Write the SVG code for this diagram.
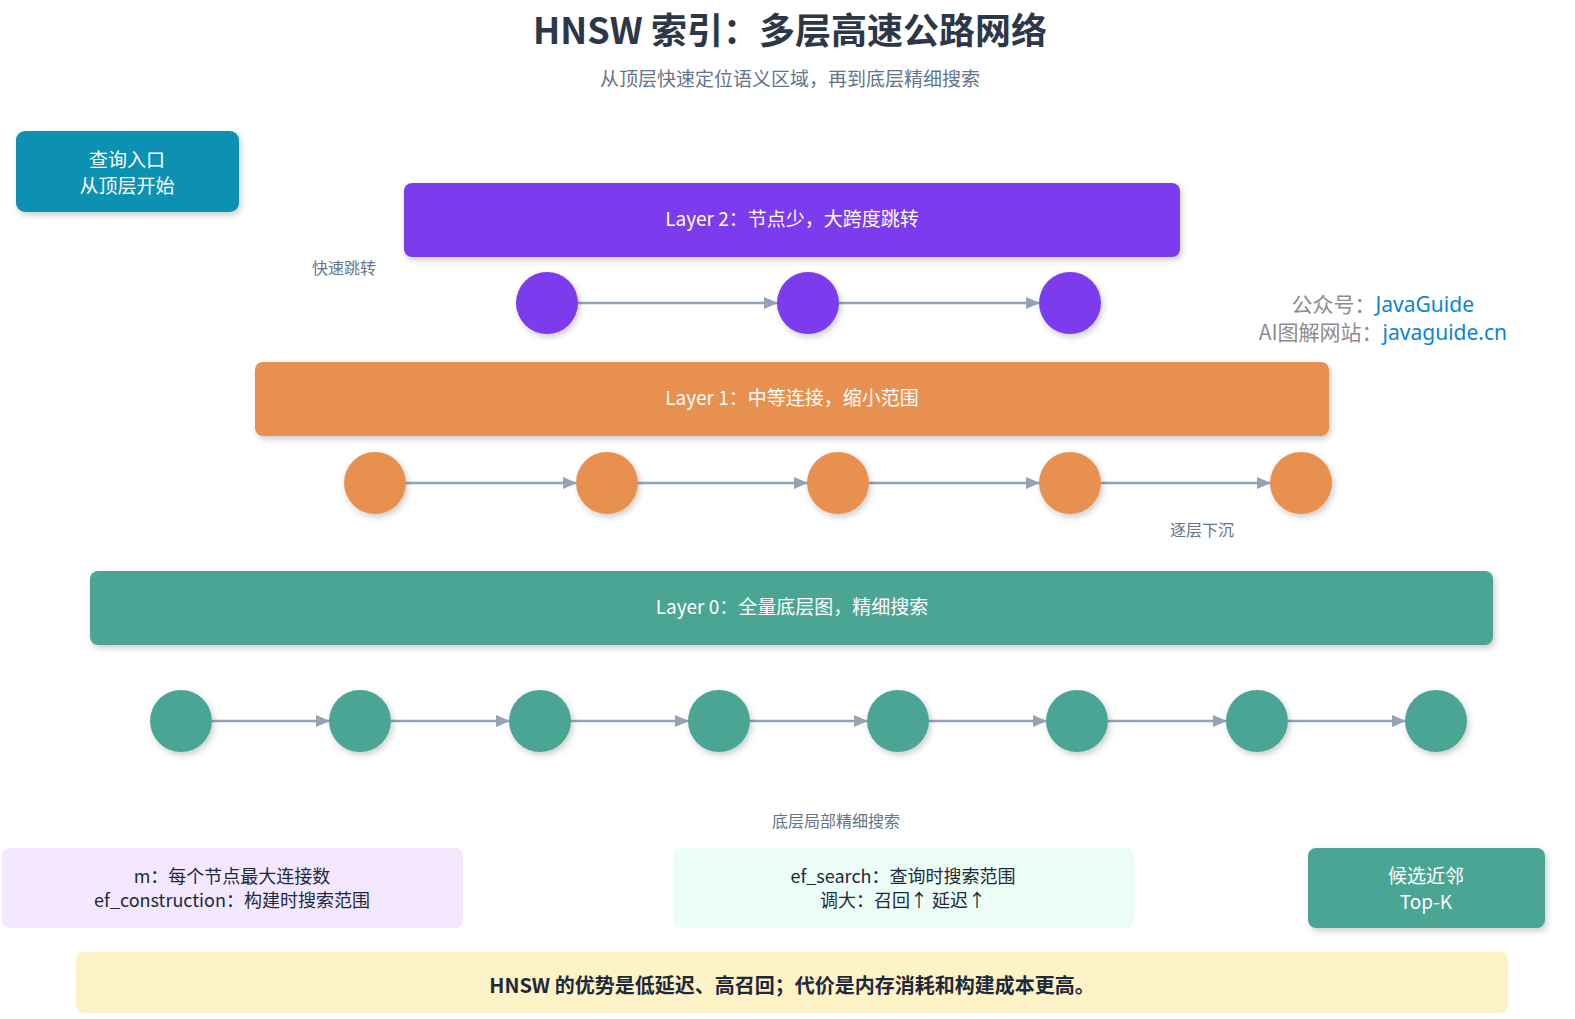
<svg xmlns="http://www.w3.org/2000/svg" width="1575" height="1019" viewBox="0 0 1575 1019">
<defs>
<filter id="sh" x="-10%" y="-20%" width="120%" height="150%"><feDropShadow dx="2" dy="3" stdDeviation="3" flood-color="#000" flood-opacity="0.2"/></filter>
<marker id="ah" markerWidth="14" markerHeight="12" refX="13" refY="6" orient="auto" markerUnits="userSpaceOnUse"><path d="M0,0 L14,6 L0,12 Z" fill="#94a3b8"/></marker>
<style>
text{font-family:"Noto Sans CJK SC","Noto Sans",sans-serif;}
.t{fill:#fff;font-size:19px;text-anchor:middle}
.g{fill:#64748b;font-size:16px;text-anchor:middle}
.d{fill:#1e293b;font-size:18px;text-anchor:middle}
.c{stroke:#94a3b8;stroke-width:2.5;fill:none;marker-end:url(#ah)}
</style>
</defs>
<rect width="1575" height="1019" fill="#fff"/>
<text x="790" y="44" text-anchor="middle" font-size="36" font-weight="bold" fill="#2d3748">HNSW 索引：多层高速公路网络</text>
<text x="790" y="86" class="g" font-size="19" style="font-size:19px">从顶层快速定位语义区域，再到底层精细搜索</text>

<g id="query"><rect x="16" y="131" width="223" height="81" rx="9" fill="#0891b2" filter="url(#sh)"/><text class="t" x="127" y="167">查询入口</text><text class="t" x="127" y="193">从顶层开始</text></g>

<g id="layer2"><rect x="404" y="183" width="776" height="74" rx="8" fill="#7c3aed" filter="url(#sh)"/><text class="t" x="792" y="226">Layer 2：节点少，大跨度跳转</text></g>
<g id="layer1"><rect x="255" y="362" width="1074" height="74" rx="8" fill="#e8904f" filter="url(#sh)"/><text class="t" x="792" y="405">Layer 1：中等连接，缩小范围</text></g>
<g id="layer0"><rect x="90" y="571" width="1403" height="74" rx="8" fill="#4ba594" filter="url(#sh)"/><text class="t" x="792" y="614">Layer 0：全量底层图，精细搜索</text></g>

<g id="connectors">
<path class="c" d="M578,303 H777"/><path class="c" d="M839,303 H1039"/>
<path class="c" d="M406,483 H576"/><path class="c" d="M638,483 H807"/><path class="c" d="M869,483 H1039"/><path class="c" d="M1101,483 H1270"/>
<path class="c" d="M212,721 H329"/><path class="c" d="M391,721 H509"/><path class="c" d="M571,721 H688"/><path class="c" d="M750,721 H867"/><path class="c" d="M929,721 H1046"/><path class="c" d="M1108,721 H1226"/><path class="c" d="M1288,721 H1405"/>
</g>

<g id="nodes2" fill="#7c3aed" filter="url(#sh)"><circle cx="547" cy="303" r="31"/><circle cx="808" cy="303" r="31"/><circle cx="1070" cy="303" r="31"/></g>
<g id="nodes1" fill="#e8904f" filter="url(#sh)"><circle cx="375" cy="483" r="31"/><circle cx="607" cy="483" r="31"/><circle cx="838" cy="483" r="31"/><circle cx="1070" cy="483" r="31"/><circle cx="1301" cy="483" r="31"/></g>
<g id="nodes0" fill="#4ba594" filter="url(#sh)"><circle cx="181" cy="721" r="31"/><circle cx="360" cy="721" r="31"/><circle cx="540" cy="721" r="31"/><circle cx="719" cy="721" r="31"/><circle cx="898" cy="721" r="31"/><circle cx="1077" cy="721" r="31"/><circle cx="1257" cy="721" r="31"/><circle cx="1436" cy="721" r="31"/></g>

<text class="g" x="344" y="274">快速跳转</text>
<text class="g" x="1202" y="536">逐层下沉</text>
<text class="g" x="836" y="827">底层局部精细搜索</text>

<g id="watermark" font-size="21" text-anchor="end">
<text x="1474" y="312" fill="#8c8c8c">公众号：<tspan fill="#0a84d8" font-family="'Noto Sans',sans-serif">JavaGuide</tspan></text>
<text x="1507" y="340" fill="#8c8c8c">AI图解网站：<tspan fill="#0a84d8" font-family="'Noto Sans',sans-serif">javaguide.cn</tspan></text>
</g>

<g id="params"><rect x="2" y="848" width="461" height="80" rx="8" fill="#f3e8ff"/><text class="d" x="232" y="883">m：每个节点最大连接数</text><text class="d" x="232" y="907">ef_construction：构建时搜索范围</text></g>
<g id="efsearch"><rect x="673" y="848" width="461" height="80" rx="8" fill="#ecfdf5"/><text class="d" x="903" y="883">ef_search：查询时搜索范围</text><text class="d" x="903" y="907">调大：召回↑ 延迟↑</text></g>
<g id="topk"><rect x="1308" y="848" width="237" height="80" rx="8" fill="#4ba594" filter="url(#sh)"/><text class="t" x="1426" y="883">候选近邻</text><text class="t" x="1426" y="909">Top-K</text></g>
<g id="summary"><rect x="76" y="952" width="1432" height="61" rx="8" fill="#fef3c7"/><text x="792" y="993" text-anchor="middle" font-size="20" font-weight="bold" fill="#1e293b">HNSW 的优势是低延迟、高召回；代价是内存消耗和构建成本更高。</text></g>
</svg>
